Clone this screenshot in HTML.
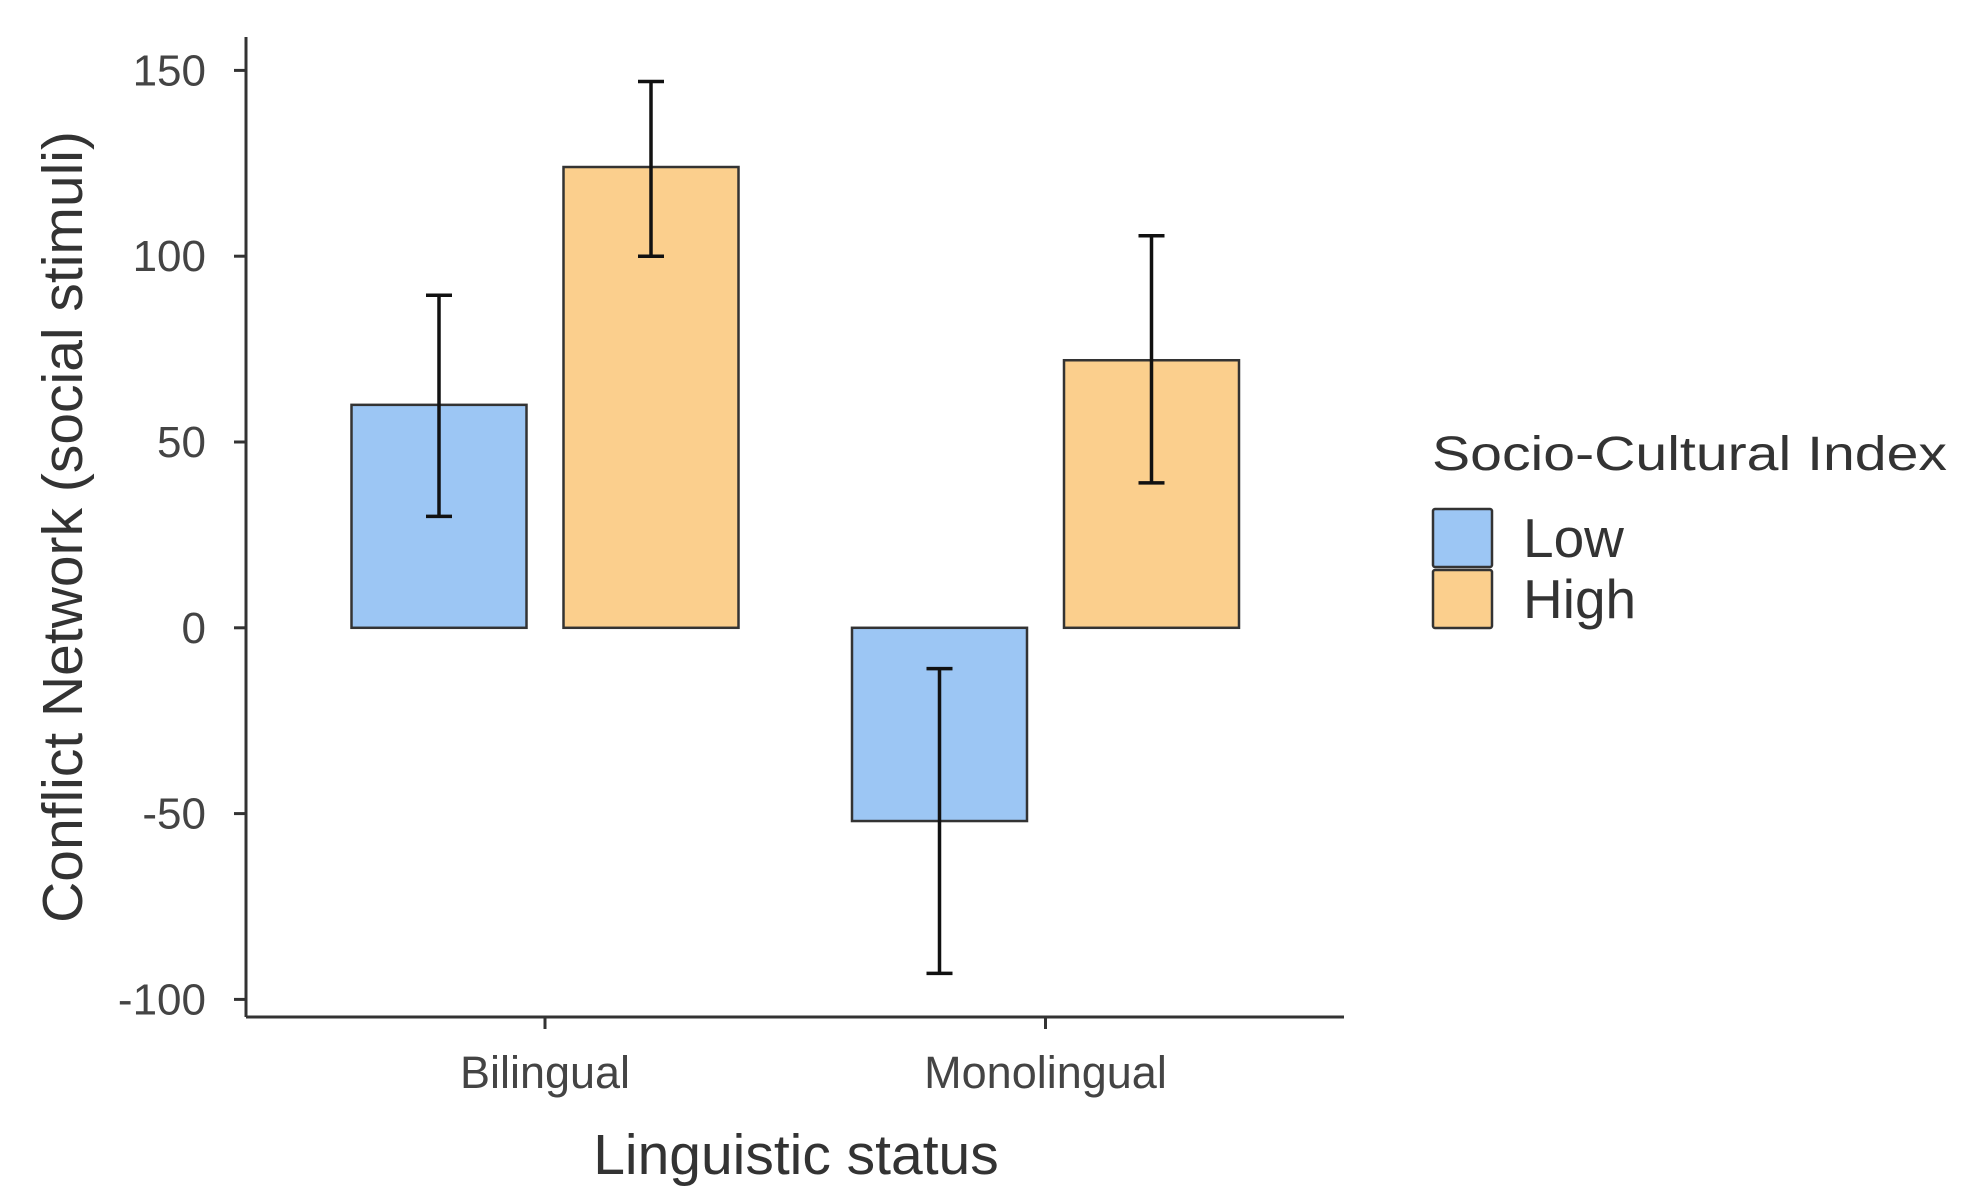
<!DOCTYPE html>
<html><head><meta charset="utf-8"><style>
html,body{margin:0;padding:0;background:#fff;}
svg{display:block;font-family:"Liberation Sans",Arial,sans-serif;}
</style></head><body>
<svg id="chart" width="1961" height="1204" viewBox="0 0 1961 1204"></svg>
<script>
const categories = ["Bilingual", "Monolingual"];
const groups = ["Low", "High"];
const lowValues = [60, -52];
const highValues = [124, 72];
const lowErrLo = [30, -93];
const lowErrHi = [89.5, -11];
const highErrLo = [100, 39];
const highErrHi = [147, 105.5];
const yTicks = [150, 100, 50, 0, -50, -100];

const NS = "http://www.w3.org/2000/svg";
const svg = document.getElementById("chart");
function mk(tag, attrs, parent) {
  const e = document.createElementNS(NS, tag);
  for (const k in attrs) e.setAttribute(k, attrs[k]);
  (parent || svg).appendChild(e);
  return e;
}
const plotLeft = 246, plotRight = 1344, plotTop = 37, plotBottom = 1017;
const zeroY = 627.8, pxPerUnit = 3.716;
function y(v) { return zeroY - v * pxPerUnit; }
const catCenters = [545, 1045.5];
function x(i) { return catCenters[i]; }
const barW = 175, off = 106;
const colors = ["#9cc6f4", "#fbcf8d"];

const ax = mk("line", {x1: plotLeft, y1: plotTop, x2: plotLeft, y2: plotBottom, stroke: "#333", "stroke-width": 3});


const bx = mk("line", {x1: plotLeft, y1: plotBottom, x2: plotRight, y2: plotBottom, stroke: "#333", "stroke-width": 3});



yTicks.forEach(t => {
  const tk = mk("line", {x1: plotLeft - 12, y1: y(t), x2: plotLeft, y2: y(t), stroke: "#333", "stroke-width": 3});
  
  
  const tl = mk("text", {x: plotLeft - 40, y: y(t) + 15, "text-anchor": "end", "font-size": 44, fill: "#444"});
  tl.textContent = t;
  
  
});
categories.forEach((c, i) => {
  const tk = mk("line", {x1: x(i), y1: plotBottom, x2: x(i), y2: plotBottom + 12, stroke: "#333", "stroke-width": 3});
  
  
  const tl = mk("text", {x: x(i), y: 1088, "text-anchor": "middle", "font-size": 45, fill: "#444"});
  tl.textContent = c;
  
  
});

function bar(i, v, k, lo, hi) {
  const cx = x(i) + (k === 0 ? -off : off);
  const r = mk("rect", {x: cx - barW / 2, y: Math.min(y(v), y(0)), width: barW, height: Math.abs(y(v) - y(0)), fill: colors[k], stroke: "#333", "stroke-width": 2.5});
  
  
  const g = mk("g", {stroke: "#111", "stroke-width": 3.5});
  
  
  mk("line", {x1: cx, y1: y(lo), x2: cx, y2: y(hi)}, g);
  mk("line", {x1: cx - 13, y1: y(lo), x2: cx + 13, y2: y(lo)}, g);
  mk("line", {x1: cx - 13, y1: y(hi), x2: cx + 13, y2: y(hi)}, g);
}
categories.forEach((c, i) => {
  bar(i, lowValues[i], 0, lowErrLo[i], lowErrHi[i]);
  bar(i, highValues[i], 1, highErrLo[i], highErrHi[i]);
});

const xt = mk("text", {x: 796, y: 1174, "text-anchor": "middle", "font-size": 57, fill: "#333"});
xt.textContent = "Linguistic status";


const yt = mk("text", {x: 0, y: 0, "text-anchor": "middle", "font-size": 57, fill: "#333", transform: "translate(82,527) rotate(-90)"});
yt.textContent = "Conflict Network (social stimuli)";



const lt = mk("text", {x: 1432, y: 470, "font-size": 48, fill: "#333", textLength: 515, lengthAdjust: "spacingAndGlyphs"});
lt.textContent = "Socio-Cultural Index";


groups.forEach((gname, k) => {
  const top = 509 + k * 61;
  const sw = mk("rect", {x: 1433, y: top, width: 59, height: 58, fill: colors[k], stroke: "#333", "stroke-width": 2.5, rx: 2});
  
  
  const tx = mk("text", {x: 1523, y: top + 48, "font-size": 55, fill: "#333"});
  tx.textContent = gname;
  
  
});
</script>
</body></html>
